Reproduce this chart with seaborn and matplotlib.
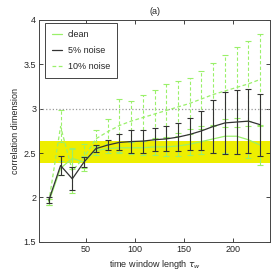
import numpy as np
import pandas as pd
import matplotlib
matplotlib.use("Agg")
import matplotlib.pyplot as plt
import seaborn as sns

# datos
ventana = [12, 24, 36, 48, 60, 72, 84, 96, 108, 120, 132, 144, 156, 168, 180, 192, 204, 216, 228]

limpio = [1.95, 2.33, 2.44, 2.40, 2.53, 2.55, 2.56, 2.56, 2.56, 2.57, 2.57, 2.58, 2.60, 2.63, 2.66, 2.69, 2.69, 2.65, 2.59]
limpio_err = [0.03, 0.08, 0.12, 0.07, 0.05, 0.05, 0.06, 0.07, 0.08, 0.09, 0.10, 0.11, 0.12, 0.14, 0.16, 0.19, 0.20, 0.21, 0.22]

ruido5 = [1.97, 2.36, 2.21, 2.40, 2.55, 2.59, 2.62, 2.63, 2.635, 2.65, 2.66, 2.68, 2.71, 2.75, 2.80, 2.84, 2.85, 2.86, 2.82]
ruido5_err = [0.03, 0.11, 0.13, 0.06, 0.04, 0.06, 0.09, 0.13, 0.13, 0.13, 0.14, 0.16, 0.18, 0.22, 0.30, 0.35, 0.36, 0.36, 0.35]

ruido10 = [1.95, 2.80, 2.30, 2.45, 2.66, 2.74, 2.81, 2.86, 2.90, 2.94, 2.98, 3.02, 3.06, 3.11, 3.16, 3.20, 3.24, 3.28, 3.33]
ruido10_err = [0.03, 0.18, 0.25, 0.15, 0.10, 0.14, 0.30, 0.23, 0.26, 0.27, 0.30, 0.29, 0.29, 0.31, 0.36, 0.41, 0.45, 0.48, 0.51]

banda = [2.385, 2.635]
verde = "#9af06a"
negro = "#333333"

df = pd.DataFrame({"ventana": ventana, "clean": limpio, "5% noise": ruido5, "10% noise": ruido10})

sns.set_style("ticks")
plt.rcParams["font.family"] = ["Liberation Sans", "DejaVu Sans"]

fig = plt.figure(figsize=(2.73, 2.73), dpi=100)
ax = fig.add_axes([0.143, 0.114, 0.846, 0.813])

ax.axhspan(banda[0], banda[1], color="#eeee00", zorder=0, lw=0)
ax.axhline(3, color="#999999", ls=":", lw=0.9, zorder=1)

sns.lineplot(data=df, x="ventana", y="clean", color=verde, lw=0.9, ax=ax, label="clean", zorder=3)
sns.lineplot(data=df, x="ventana", y="5% noise", color=negro, lw=0.9, ax=ax, label="5% noise", zorder=5)
sns.lineplot(data=df, x="ventana", y="10% noise", color=verde, lw=0.9, ax=ax, label="10% noise", zorder=2,
             dashes=False)
ax.lines[-1].set_dashes((3, 2))

eb10 = ax.errorbar(ventana, ruido10, yerr=ruido10_err, fmt="none", ecolor=verde, elinewidth=0.8, capsize=2, capthick=0.8, zorder=2)
eb10[2][0].set_linestyle((0, (3, 2)))
ax.errorbar(ventana, limpio, yerr=limpio_err, fmt="none", ecolor=verde, elinewidth=0.8, capsize=2, capthick=0.8, zorder=3)
ax.errorbar(ventana, ruido5, yerr=ruido5_err, fmt="none", ecolor=negro, elinewidth=0.8, capsize=2, capthick=0.8, zorder=5)

ax.set_xlim(2, 238)
ax.set_ylim(1.5, 4)
ax.set_xticks([50, 100, 150, 200])
ax.set_yticks([1.5, 2, 2.5, 3, 3.5, 4])
ax.set_yticklabels(["1.5", "2", "2.5", "3", "3.5", "4"])
ax.tick_params(direction="in", length=3, width=0.6, labelsize=6.5, top=True, right=True, pad=2)
for s in ax.spines.values():
    s.set_linewidth(0.7)
    s.set_color("#444444")

ax.set_xlabel(r"time window length $\tau_w$", fontsize=6.5, labelpad=3)
ax.set_ylabel("correlation dimension", fontsize=6.5, labelpad=3)
ax.set_title("(a)", fontsize=6.5, pad=4)

leg = ax.legend(loc="upper left", fontsize=6.5, handlelength=1.1, handletextpad=0.6,
                borderpad=0.8, labelspacing=0.75, fancybox=False, framealpha=1,
                edgecolor="#444444", bbox_to_anchor=(0.026, 0.986), borderaxespad=0)
leg.get_frame().set_linewidth(0.7)

plt.savefig("out.png", dpi=100)
plt.close()
